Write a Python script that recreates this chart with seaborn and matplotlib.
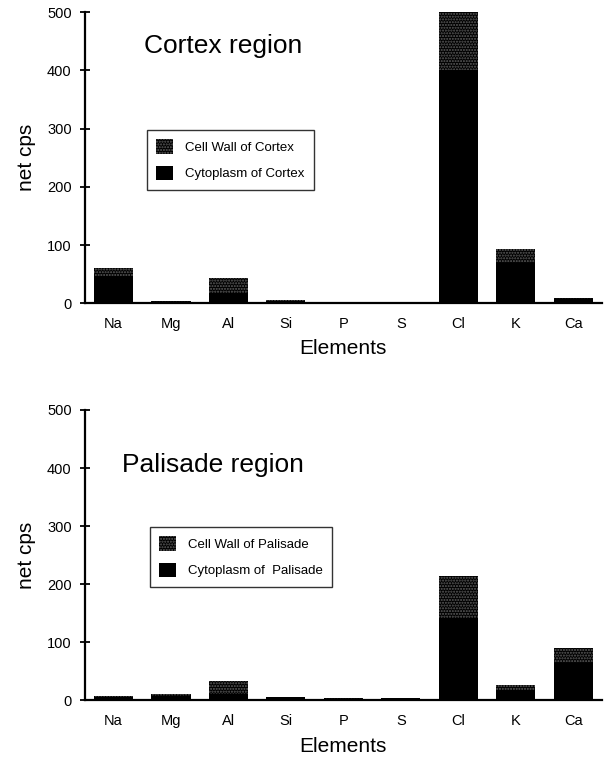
import numpy as np
import matplotlib
matplotlib.use("Agg")
import matplotlib.pyplot as plt
import seaborn as sns
from matplotlib.patches import Patch
from matplotlib.legend_handler import HandlerTuple

# Data (net cps)
elements = ["Na", "Mg", "Al", "Si", "P", "S", "Cl", "K", "Ca"]

cortex_cytoplasm = [46, 3, 17, 4, 2.5, 2.5, 400, 70, 7]
cortex_wall = [14, 0.5, 26, 1, 0.5, 0.5, 102, 24, 2]

palisade_cytoplasm = [6, 8, 10, 5, 3, 3.5, 141, 17, 64]
palisade_wall = [2, 2, 24, 1, 0.5, 0.5, 73, 9, 26]

sns.set_style("white")
plt.rcParams["font.family"] = ["Liberation Sans", "DejaVu Sans"]
plt.rcParams["hatch.linewidth"] = 1.0
for key in ["text.color", "axes.labelcolor", "xtick.color", "ytick.color"]:
    plt.rcParams[key] = "black"

fig = plt.figure(figsize=(6.1, 7.62), dpi=100)
ax1 = fig.add_axes([0.139, 0.602, 0.848, 0.382])
ax2 = fig.add_axes([0.139, 0.081, 0.848, 0.381])

stipple = "......"
wall_dots = "#5e5e5e"


def draw_panel(ax, cyto, wall, title, tx, ty, wall_label, cyto_label, lx, ly):
    cyto = np.array(cyto)
    wall = np.array(wall)
    total = cyto + wall
    pos = np.arange(len(elements))
    sns.barplot(x=pos, y=total, color="black", saturation=1, width=0.68,
                ax=ax, linewidth=0)
    # stippled cell-wall part on top of cytoplasm
    ax.bar(pos, wall, bottom=cyto, width=0.68, facecolor="none",
           edgecolor=wall_dots, hatch=stipple, linewidth=0)
    ax.set_xlim(-0.5, len(elements) - 0.5)
    ax.set_ylim(0, 500)
    ax.set_yticks([0, 100, 200, 300, 400, 500])
    ax.set_xticks(pos)
    ax.set_xticklabels(elements, fontsize=10.5)
    ax.set_xticks(np.arange(len(elements) + 1) - 0.5, minor=True)
    ax.tick_params(axis="x", which="major", length=0, pad=10)
    ax.tick_params(axis="x", which="minor", direction="inout", length=7,
                   width=1.3, color="black")
    ax.tick_params(axis="y", direction="inout", length=7, width=1.3,
                   labelsize=10.5, color="black", pad=6, left=True)
    for s in ["top", "right"]:
        ax.spines[s].set_visible(False)
    for s in ["left", "bottom"]:
        ax.spines[s].set_linewidth(1.6)
        ax.spines[s].set_color("black")
    ax.set_xlabel("Elements", fontsize=15, labelpad=6)
    ax.set_ylabel("net cps", fontsize=15, labelpad=8)
    ax.text(tx, ty, title, transform=ax.transAxes, fontsize=19,
            va="center", ha="left")

    h_wall = (Patch(facecolor="black", linewidth=0),
              Patch(facecolor="none", edgecolor=wall_dots, hatch=stipple,
                    linewidth=0))
    h_cyto = Patch(facecolor="black", linewidth=0)
    leg = ax.legend([h_wall, h_cyto], [wall_label, cyto_label],
                    handler_map={tuple: HandlerTuple(ndivide=1, pad=0)},
                    loc="upper left", bbox_to_anchor=(lx, ly),
                    fontsize=9.5, frameon=True, fancybox=False,
                    handlelength=1.3, handleheight=1.3, handletextpad=0.9,
                    labelspacing=0.9, borderpad=0.7, borderaxespad=0)
    leg.get_frame().set_edgecolor("black")
    leg.get_frame().set_linewidth(1.0)


draw_panel(ax1, cortex_cytoplasm, cortex_wall, "Cortex region", 0.115, 0.885,
           "Cell Wall of Cortex", "Cytoplasm of Cortex", 0.12, 0.595)
draw_panel(ax2, palisade_cytoplasm, palisade_wall, "Palisade region", 0.072,
           0.81, "Cell Wall of Palisade", "Cytoplasm of  Palisade", 0.126,
           0.597)

plt.savefig("out.png", dpi=100)
